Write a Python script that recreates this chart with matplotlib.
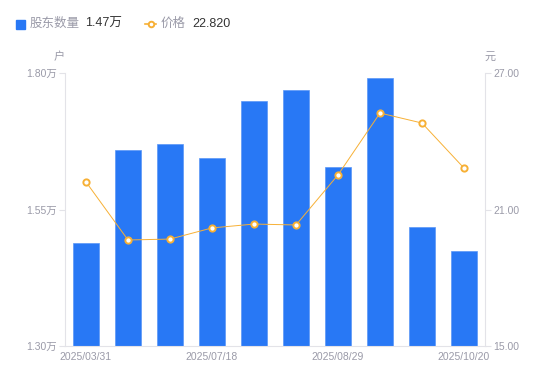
import numpy as np
import matplotlib
matplotlib.use("Agg")
import matplotlib.pyplot as plt
from matplotlib.patches import Rectangle
from matplotlib.lines import Line2D

plt.rcParams['font.family'] = ['Liberation Sans', 'Noto Sans CJK SC', 'DejaVu Sans']

# dados
datas = ['2025/03/31', '', '', '2025/07/18', '', '', '2025/08/29', '', '', '2025/10/20']
acionistas = [1.489, 1.659, 1.670, 1.644, 1.749, 1.769, 1.628, 1.791, 1.518, 1.474]  # 万户
precos = [22.21, 19.66, 19.70, 20.19, 20.36, 20.32, 22.52, 25.24, 24.80, 22.82]
ticks_esq = [1.30, 1.55, 1.80]
ticks_dir = [15.0, 21.0, 27.0]

azul = '#2878f5'
laranja = '#f7b035'
cinza = '#9a9aa8'
eixo = '#e3e3e8'

fig = plt.figure(figsize=(5.5, 3.81), dpi=100)
ax = fig.add_axes([65/550, 35/381, 420/550, 273/381])
ax2 = ax.twinx()

x = np.arange(len(acionistas))
ax.bar(x, acionistas, width=0.6, color=azul, edgecolor='#5a97f7', linewidth=0.5, zorder=2)
ax.set_xlim(-0.5, len(x) - 0.5)
ax.set_ylim(1.30, 1.80)
ax.set_yticks(ticks_esq)
ax.set_yticklabels([f'{v:.2f}万' for v in ticks_esq])
ax.set_xticks(x)
ax.set_xticklabels(datas)

ax2.plot(x, precos, color=laranja, lw=0.7, marker='o', ms=4.5,
         mfc='white', mec=laranja, mew=1.4, zorder=3)
ax2.set_ylim(15, 27)
ax2.set_yticks(ticks_dir)
ax2.set_yticklabels([f'{v:.2f}' for v in ticks_dir])

for a in (ax, ax2):
    for s in a.spines.values():
        s.set_visible(False)
ax.spines['left'].set_visible(True)
ax.spines['left'].set_color(eixo)
ax.spines['bottom'].set_visible(True)
ax.spines['bottom'].set_color(eixo)
ax2.spines['right'].set_visible(True)
ax2.spines['right'].set_color(eixo)

ax.tick_params(axis='y', colors=eixo, labelcolor=cinza, labelsize=7.5, length=4, pad=2)
ax.tick_params(axis='x', length=0, labelcolor=cinza, labelsize=7.5, pad=4)
ax2.tick_params(axis='y', colors=eixo, labelcolor=cinza, labelsize=7.5, length=4, pad=2)

fig.text(59/550, 1 - 57/381, '户', color=cinza, fontsize=8, ha='center', va='center')
fig.text(490/550, 1 - 57/381, '元', color=cinza, fontsize=8, ha='center', va='center')

# legenda
yl = 1 - 24/381
fig.patches.append(Rectangle((16/550, yl - 4.5/381), 9/550, 9/381, color=azul,
                             transform=fig.transFigure, figure=fig))
fig.text(30/550, yl, '股东数量', color=cinza, fontsize=9, va='center')
fig.text(85/550, yl, f'{acionistas[-1]:.2f}万', color='#333333', fontsize=9, va='center')
fig.lines.append(Line2D([145/550, 150.5/550, 156/550], [yl, yl, yl], color=laranja, lw=1.2,
                        marker='o', ms=4, mfc='white', mec=laranja, mew=1.4,
                        markevery=[1], transform=fig.transFigure, figure=fig))
fig.text(161/550, yl, '价格', color=cinza, fontsize=9, va='center')
fig.text(192/550, yl, f'{precos[-1]:.3f}', color='#333333', fontsize=9, va='center')

fig.savefig('out.png', dpi=100)
